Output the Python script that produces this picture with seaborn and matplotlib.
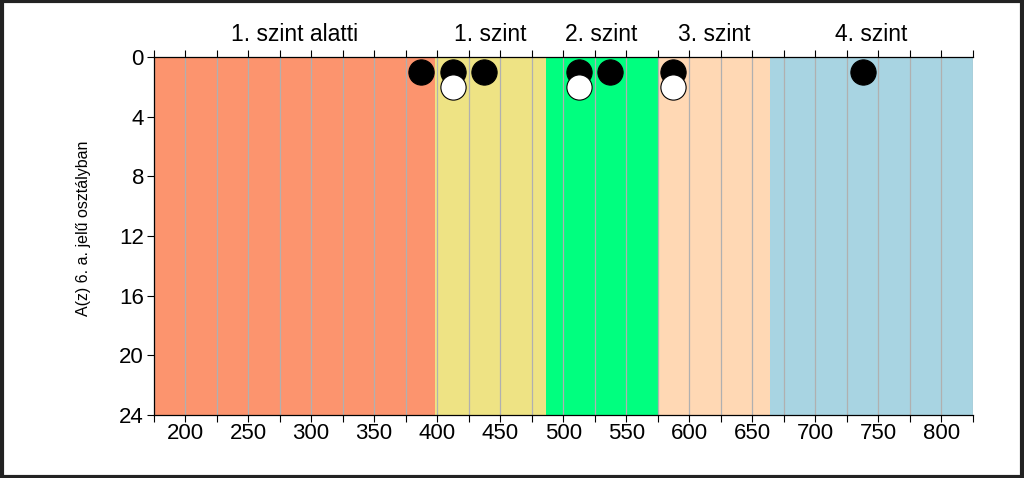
import matplotlib
matplotlib.use("Agg")
import matplotlib.pyplot as plt
import seaborn as sns
import pandas as pd
from matplotlib.patches import Rectangle
from matplotlib.ticker import MultipleLocator

# Data
level_labels = ["1. szint alatti", "1. szint", "2. szint", "3. szint", "4. szint"]
level_edges = [175, 398, 486, 575, 664, 825]
black_x = [387.5, 412.5, 437.5, 512.5, 537.5, 587.5, 737.5]
black_y = [1, 1, 1, 1, 1, 1, 1]
white_x = [412.5, 512.5, 587.5]
white_y = [2, 2, 2]
ylabel = "A(z) 6. a. jelű osztályban"

band_colors = ["#FC946E", "#EEE384", "#00FF7F", "#FFD8B4", "#A8D4E2"]

sns.set_theme(style="white")
plt.rcParams['font.family'] = ['Liberation Sans', 'DejaVu Sans']
plt.rcParams['text.color'] = 'black'
plt.rcParams['axes.labelcolor'] = 'black'
plt.rcParams['xtick.color'] = 'black'
plt.rcParams['ytick.color'] = 'black'

fig = plt.figure(figsize=(10.24, 4.78), dpi=100)
ax = fig.add_axes([0.150, 0.132, 0.800, 0.749])

for i, lab in enumerate(level_labels):
    ax.axvspan(level_edges[i], level_edges[i + 1], color=band_colors[i], zorder=0, lw=0)
    ax.text((level_edges[i] + level_edges[i + 1]) / 2, 1.03, lab,
            transform=ax.get_xaxis_transform(), ha="center", va="bottom", fontsize=16.5,
            color="black")

ax.set_xlim(175, 825)
ax.set_ylim(24, 0)
ax.xaxis.set_major_locator(MultipleLocator(50))
ax.xaxis.set_minor_locator(MultipleLocator(25))
ax.yaxis.set_major_locator(MultipleLocator(4))
ax.grid(True, which="both", axis="x", color="#b0b0b0", lw=0.9, zorder=1)
ax.set_axisbelow(True)

dfb = pd.DataFrame({"x": black_x, "y": black_y})
dfw = pd.DataFrame({"x": white_x, "y": white_y})
sns.scatterplot(data=dfb, x="x", y="y", ax=ax, color="black", s=330, edgecolor="black", linewidth=0.8, zorder=3)
sns.scatterplot(data=dfw, x="x", y="y", ax=ax, color="white", s=330, edgecolor="black", linewidth=0.8, zorder=4)
ax.set_xlabel("")
ax.set_ylabel(ylabel, fontsize=11.5, labelpad=20, color="black")
ax.yaxis.set_label_coords(-0.077, 0.52)

ax.tick_params(axis="both", which="both", direction="out", bottom=True, top=True, left=True,
               labeltop=False, color="black", width=0.8, labelcolor="black")
ax.tick_params(axis="both", which="major", length=5, labelsize=16)
ax.tick_params(axis="x", which="minor", length=5)
ax.tick_params(axis="x", which="major", pad=1)
ax.tick_params(axis="y", which="major", pad=2)
for side in ["left", "bottom", "top"]:
    ax.spines[side].set_visible(True)
    ax.spines[side].set_color("black")
    ax.spines[side].set_linewidth(0.9)
ax.spines["right"].set_visible(False)

fig.patches.append(Rectangle((0.0015, 0.003), 0.997, 0.994, transform=fig.transFigure,
                             fill=False, edgecolor="#222222", linewidth=3))

fig.savefig("out.png", dpi=100)
